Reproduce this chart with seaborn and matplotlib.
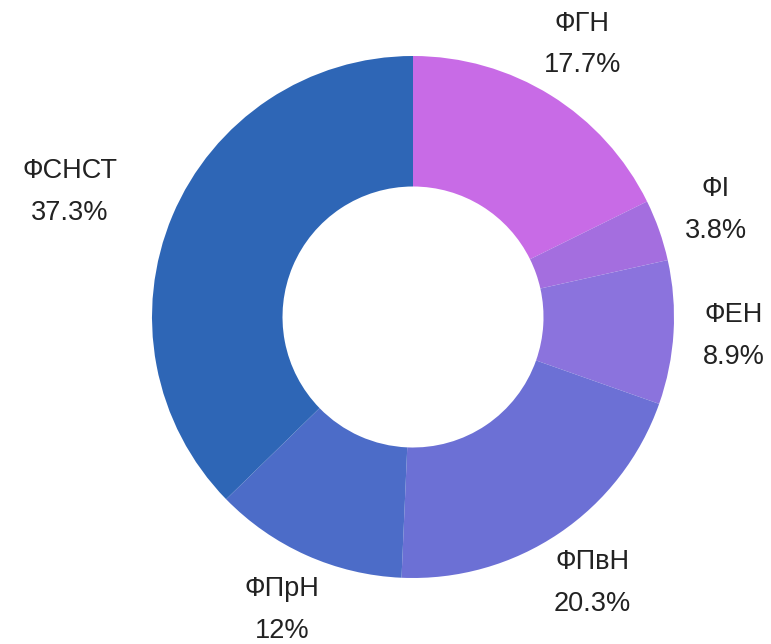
import seaborn as sns
import matplotlib
matplotlib.use("Agg")
import matplotlib.pyplot as plt

labels = ["ФГН", "ФI", "ФЕН", "ФПвН", "ФПрН", "ФСНСТ"]
shares = [17.7, 3.8, 8.9, 20.3, 12, 37.3]
colors = ["#c86be6", "#a46edf", "#8b73dd", "#6c70d5", "#4c6cc8", "#2e66b6"]

sns.set_theme(style="white")
plt.rcParams["font.family"] = ["Liberation Sans", "DejaVu Sans"]

fig = plt.figure(figsize=(7.71, 6.44), dpi=100)
cx, cy, r = 413, 317, 261
ax = fig.add_axes([(cx - r) / 771, (644 - cy - r) / 644, 2 * r / 771, 2 * r / 644])

texts = [f"{lab}\n{v:g}%" for lab, v in zip(labels, shares)]
wedges, lbls = ax.pie(
    shares,
    labels=texts,
    colors=colors,
    startangle=90,
    counterclock=False,
    labeldistance=1.23,
    wedgeprops=dict(width=0.5, linewidth=0),
    textprops=dict(fontsize=19.5, color="#222222", linespacing=1.78),
)
for t, lab in zip(lbls, labels):
    t.set_ha("right" if lab == "ФСНСТ" else "center")
    t.set_va("center")
    t.set_multialignment("center")

ax.set_xlim(-1, 1)
ax.set_ylim(-1, 1)
ax.set_aspect("equal")
fig.savefig("out.png", dpi=100)
